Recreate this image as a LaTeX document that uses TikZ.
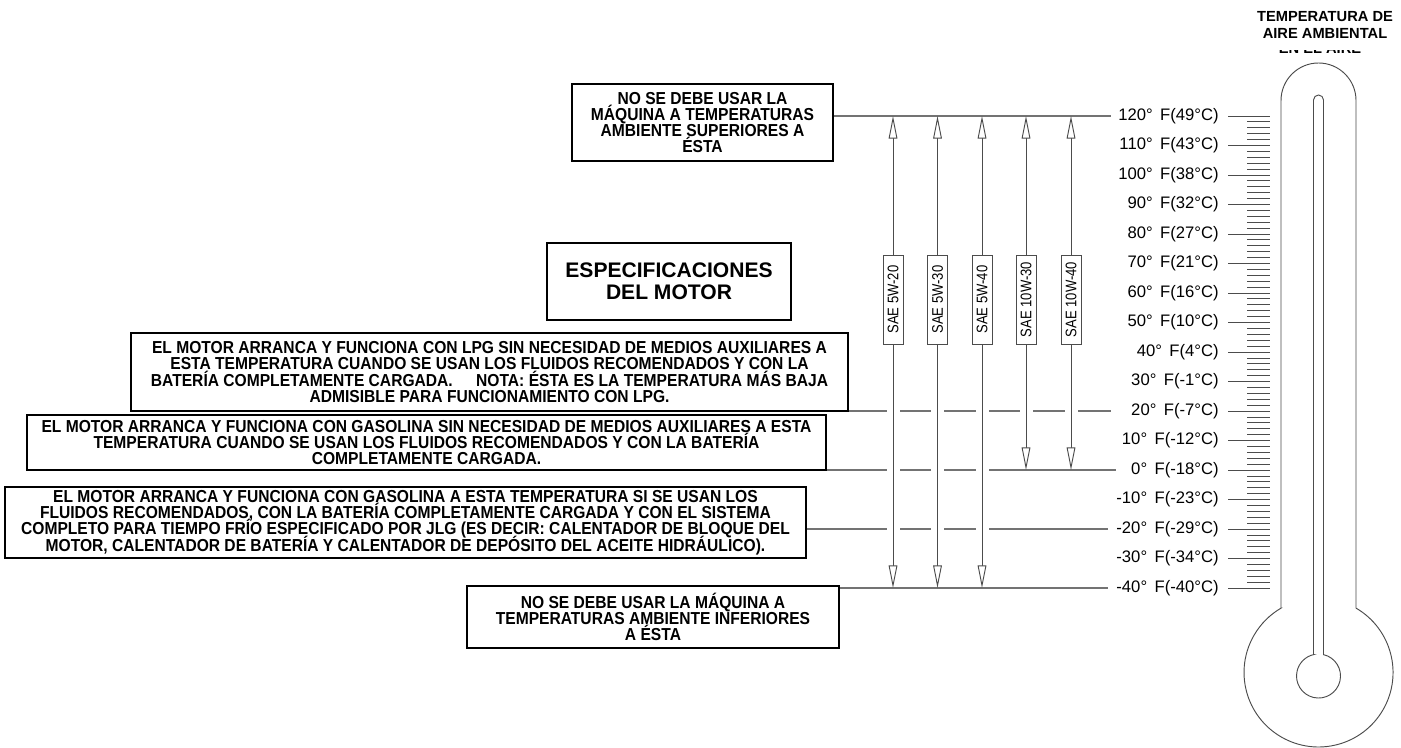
\documentclass[tikz,border=0pt]{standalone}
\usepackage{fontspec}
\setmainfont{Liberation Sans}
\newfontfamily\narrowfont{Liberation Sans}[FakeStretch=0.85]
\newfontfamily\boxfont{Liberation Sans}[FakeStretch=0.9]
\usetikzlibrary{arrows.meta}
\definecolor{lgray}{gray}{0.45}
\definecolor{dgray}{gray}{0.3}
\lineskiplimit=-30pt
\begin{document}
\begin{tikzpicture}[x=0.75pt,y=0.75pt,
  box/.style={draw=black, line width=1.5pt, fill=white, align=center,
    font=\boxfont\bfseries\fontsize{13}{12.2}\selectfont, inner sep=0pt},
  oilbox/.style={draw=dgray, line width=0.6pt, fill=white, rotate=90,
    font=\narrowfont\fontsize{11.5}{12}\selectfont,
    minimum width=66.75pt, minimum height=15pt, inner sep=0pt},
  templabel/.style={font=\fontsize{12.5}{13}\selectfont, inner sep=0pt, anchor=east},
  hline/.style={draw=lgray, line width=0.8pt},
  gapline/.style={draw=white, line width=2.5pt},
  leader/.style={draw=dgray, line width=0.7pt},
  scaletick/.style={draw=dgray, line width=0.6pt},
  arrowline/.style={draw=dgray, line width=0.7pt,
    -{Triangle[length=17pt, width=6.5pt, fill=white]}},
  thermo/.style={draw=dgray, line width=0.7pt},
  titletext/.style={font=\bfseries\fontsize{11}{12.75}\selectfont, align=center, inner sep=0pt}
]
\fill[white] (0,0) rectangle (1401,-748);
\useasboundingbox (0,0) rectangle (1401,-748);

% title
\node[titletext] (title) at (1325,-25) {TEMPERATURA DE\\AIRE AMBIENTAL};
\begin{scope}
  \clip (1262,-50.5) rectangle (1380,-56);
  \node[titletext, anchor=base] (frag) at (1320,-53.5) {EN EL AIRE};
\end{scope}

% text boxes
\node[box, minimum width=195.75pt, minimum height=57.75pt] (topbox) at (702.5,-122.5)
  {NO SE DEBE USAR LA\\MÁQUINA A TEMPERATURAS\\AMBIENTE SUPERIORES A\\ÉSTA};
\node[box, font=\bfseries\fontsize{15.8}{16.5}\selectfont, minimum width=183pt, minimum height=57.75pt] (specbox) at (669,-281.5)
  {ESPECIFICACIONES\\DEL MOTOR};
\node[box, minimum width=537.75pt, minimum height=58.5pt] (lpgbox) at (489.5,-372)
  {EL MOTOR ARRANCA Y FUNCIONA CON LPG SIN NECESIDAD DE MEDIOS AUXILIARES A\\
   ESTA TEMPERATURA CUANDO SE USAN LOS FLUIDOS RECOMENDADOS Y CON LA\\
   BATERÍA COMPLETAMENTE CARGADA.\hspace{1.1em} NOTA: ÉSTA ES LA TEMPERATURA MÁS BAJA\\
   ADMISIBLE PARA FUNCIONAMIENTO CON LPG.};
\node[box, minimum width=599.25pt, minimum height=41.25pt] (gasbox) at (426.5,-442.5)
  {EL MOTOR ARRANCA Y FUNCIONA CON GASOLINA SIN NECESIDAD DE MEDIOS AUXILIARES A ESTA\\
   TEMPERATURA CUANDO SE USAN LOS FLUIDOS RECOMENDADOS Y CON LA BATERÍA\\
   COMPLETAMENTE CARGADA.};
\node[box, minimum width=600.75pt, minimum height=53.25pt] (coldbox) at (405.5,-522.5)
  {EL MOTOR ARRANCA Y FUNCIONA CON GASOLINA A ESTA TEMPERATURA SI SE USAN LOS\\
   FLUIDOS RECOMENDADOS, CON LA BATERÍA COMPLETAMENTE CARGADA Y CON EL SISTEMA\\
   COMPLETO PARA TIEMPO FRÍO ESPECIFICADO POR JLG (ES DECIR: CALENTADOR DE BLOQUE DEL\\
   MOTOR, CALENTADOR DE BATERÍA Y CALENTADOR DE DEPÓSITO DEL ACEITE HIDRÁULICO).};
\node[box, minimum width=279pt, minimum height=46.5pt] (lowbox) at (653,-617)
  {NO SE DEBE USAR LA MÁQUINA A\\TEMPERATURAS AMBIENTE INFERIORES\\A ÉSTA};

% temperature labels, leaders
\foreach \f/\c [count=\i from 0] in {120/49,110/43,100/38,90/32,80/27,70/21,60/16,50/10,40/4,30/-1,20/-7,10/-12,0/-18,-10/-23,-20/-29,-30/-34,-40/-40}{
  \node[templabel] (t\i) at (1219,-116-29.5*\i) {\f°\hspace{0.45em}F(\c°C)};
  \coordinate (s\i) at (1270,-116-29.5*\i);
  \draw[leader] ([xshift=6.75pt]t\i.east) -- (s\i);
}
% scale ticks
\foreach \k in {0,...,80}
  \draw[scaletick] (1247,-116-5.9*\k) -- (1270,-116-5.9*\k);

% horizontal temperature lines
\draw[hline] (topbox.east |- t0) -- ([xshift=-5pt]t0.west);
\draw[hline] (lpgbox.east |- t10) -- ([xshift=-15pt]t10.west);
\draw[hline] (gasbox.east |- t12) -- ([xshift=-11pt]t12.west);
\draw[hline] (coldbox.east |- t14) -- ([xshift=-6pt]t14.west);
\draw[hline] (lowbox.east |- t16) -- ([xshift=-6pt]t16.west);
% breaks where the oil arrows cross
\foreach \x in {893,937.5,982,1026,1071}
  \draw[gapline] (\x-6.5,-411) -- (\x+6.5,-411);
\foreach \x in {893,937.5,982}{
  \draw[gapline] (\x-6.5,-470) -- (\x+6.5,-470);
  \draw[gapline] (\x-6.5,-529) -- (\x+6.5,-529);
}

% oil grade ranges
\foreach \x/\lab/\n/\b in {893/SAE 5W-20/o1/16, 937.5/SAE 5W-30/o2/16, 982/SAE 5W-40/o3/16, 1026/SAE 10W-30/o4/12, 1071/SAE 10W-40/o5/12}{
  \node[oilbox] (\n) at (\x,-299.5) {\lab};
  \draw[arrowline] (\n.east) -- (\n.east |- t0);
  \draw[arrowline] (\n.west) -- (\n.west |- t\b);
}

% thermometer
\draw[thermo] (1281,-608.1) -- (1281,-100.5) arc[start angle=180,end angle=0,radius=37.5]
  -- (1356,-608.1) arc[start angle=59.8,end angle=-239.8,radius=74.5] -- cycle;
\draw[thermo] (1313.5,-654.6) -- (1313.5,-100) arc[start angle=180,end angle=0,radius=5]
  -- (1323.5,-654.6) arc[start angle=76.87,end angle=-256.87,radius=22] -- cycle;
\end{tikzpicture}
\end{document}
